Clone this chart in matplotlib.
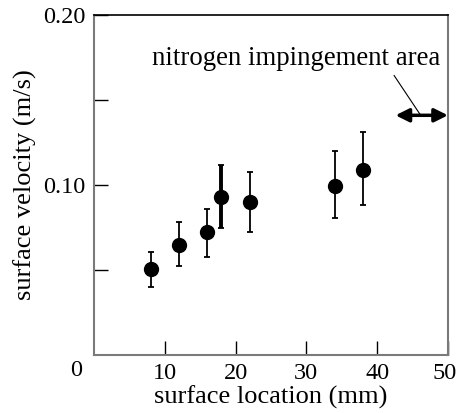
import matplotlib
matplotlib.use("Agg")
import matplotlib.pyplot as plt
from matplotlib.transforms import ScaledTranslation
import numpy as np

# data
location = [8, 12, 16, 18, 22, 34, 38]
velocity = [0.0507, 0.0650, 0.0725, 0.0928, 0.0899, 0.0997, 0.1091]
err_low = [0.0106, 0.0125, 0.0147, 0.0180, 0.0174, 0.0194, 0.0207]
err_high = [0.0100, 0.0131, 0.0133, 0.0188, 0.0179, 0.0202, 0.0220]
area_start, area_end, area_level = 42.6, 50, 0.141

plt.rcParams['font.family'] = ['Liberation Serif', 'DejaVu Serif']
plt.rcParams['font.size'] = 19

fig = plt.figure(figsize=(4.58, 4.13), dpi=100)
ax = fig.add_axes([0.2052, 0.1404, 0.7728, 0.8233])

yerr = np.array([err_low, err_high])
ax.errorbar(location, velocity, yerr=yerr, fmt='o', color='k', ms=10,
            elinewidth=1.3, capsize=2.2, capthick=1.3)
# the 18 mm point has a heavier bar
ax.errorbar(location[3], velocity[3], yerr=yerr[:, 3:4], fmt='none', ecolor='k',
            elinewidth=2.8, capsize=0)

ax.set_xlim(0, 50)
ax.set_ylim(0, 0.20)
ax.set_xticks([10, 20, 30, 40, 50])
ax.set_xticklabels(['10', '20', '30', '40', '50'])
ax.set_yticks([0.05, 0.10, 0.15, 0.20])
ax.set_yticklabels(['', '0.10', '', '0.20'])
ax.tick_params(direction='in', length=10, width=1, pad=6, colors='k', labelsize=17.5)
ax.text(-2.5, -0.0091, '0', ha='center', va='center', fontsize=17.5)

# keep the last label inside the canvas
lab50 = ax.get_xticklabels()[-1]
lab50.set_transform(lab50.get_transform() + ScaledTranslation(-0.03, 0, fig.dpi_scale_trans))

for s in ['left', 'right', 'bottom']:
    ax.spines[s].set_color('#7a7a7a')
    ax.spines[s].set_linewidth(1.5)
ax.spines['top'].set_color('k')
ax.spines['top'].set_linewidth(1.2)

ax.set_xlabel('surface location (mm)')
ax.set_ylabel('surface velocity (m/s)')
ax.xaxis.set_label_coords(0.5, -0.124)
ax.yaxis.set_label_coords(-0.195, 0.5)
ax.xaxis.label.set_va('center')
ax.yaxis.label.set_va('center')

ax.annotate('', xy=(area_start, area_level), xytext=(area_end, area_level),
            arrowprops=dict(arrowstyle='<|-|>', lw=2.5, color='k', mutation_scale=20,
                            shrinkA=0, shrinkB=0), annotation_clip=False)
ax.plot([42.4, 46.15], [0.1644, area_level], color='k', lw=0.8)
ax.text(8.2, 0.1745, 'nitrogen impingement area', ha='left', va='center', fontsize=19.3)

fig.savefig('out.png', dpi=100)
